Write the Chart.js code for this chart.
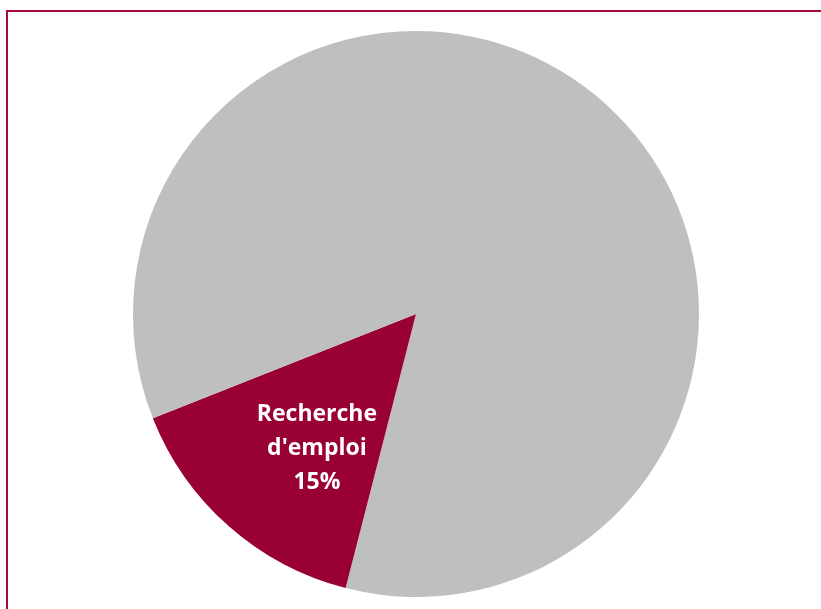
<!DOCTYPE html>
<html>
<head>
<meta charset="utf-8">
<script src="https://cdn.jsdelivr.net/npm/chart.js@4/dist/chart.umd.min.js"></script>
<style>
    html, body { margin: 0; padding: 0; background: #ffffff; overflow: hidden; }
    #frame {
        position: absolute; left: 6px; top: 10px;
        width: 840px; height: 640px;
        border: 2px solid #a50d3d;
    }
    #pieChart { position: absolute; left: 0; top: 0; }
</style>
</head>
<body>
<div id="frame"></div>
<canvas id="pieChart" width="821" height="609"></canvas>
<script>
// Data (gray slices carry no label in the original)
const categories = ['Autres (a)', "Recherche d'emploi", 'Autres (b)'];
const values = [54, 15, 31];
const sliceColors = ['#bfbfbf', '#990033', '#bfbfbf'];
const shownLabels = [null, ['Recherche', "d'emploi", '15%'], null];

// Draws the label inside the slice, like the Excel data label
const sliceLabelPlugin = {
    id: 'sliceLabel',
    afterDatasetsDraw(chart) {
        const ctx = chart.ctx;
        const meta = chart.getDatasetMeta(0);
        meta.data.forEach((arc, i) => {
            const lines = shownLabels[i];
            if (!lines) return;
            const mid = (arc.startAngle + arc.endAngle) / 2 - 5 * Math.PI / 180;
            const r = arc.outerRadius * 0.59;
            const x = arc.x + Math.cos(mid) * r;
            const y = arc.y + Math.sin(mid) * r;
            ctx.save();
            ctx.fillStyle = '#ffffff';
            ctx.font = 'bold 23px "Open Sans", Lato, sans-serif';
            ctx.textAlign = 'center';
            ctx.textBaseline = 'middle';
            const lineH = 34;
            lines.forEach((t, k) => {
                ctx.fillText(t, x, y + (k - (lines.length - 1) / 2) * lineH);
            });
            ctx.restore();
        });
    }
};

const ctx = document.getElementById('pieChart').getContext('2d');
new Chart(ctx, {
    type: 'pie',
    data: {
        labels: categories,
        datasets: [{
            data: values,
            backgroundColor: sliceColors,
            borderWidth: 0
        }]
    },
    options: {
        responsive: false,
        animation: false,
        layout: { padding: { left: 133, right: 122, top: 31, bottom: 12 } },
        plugins: {
            legend: { display: false },
            tooltip: { enabled: false }
        }
    },
    plugins: [sliceLabelPlugin]
});
</script>
</body>
</html>
